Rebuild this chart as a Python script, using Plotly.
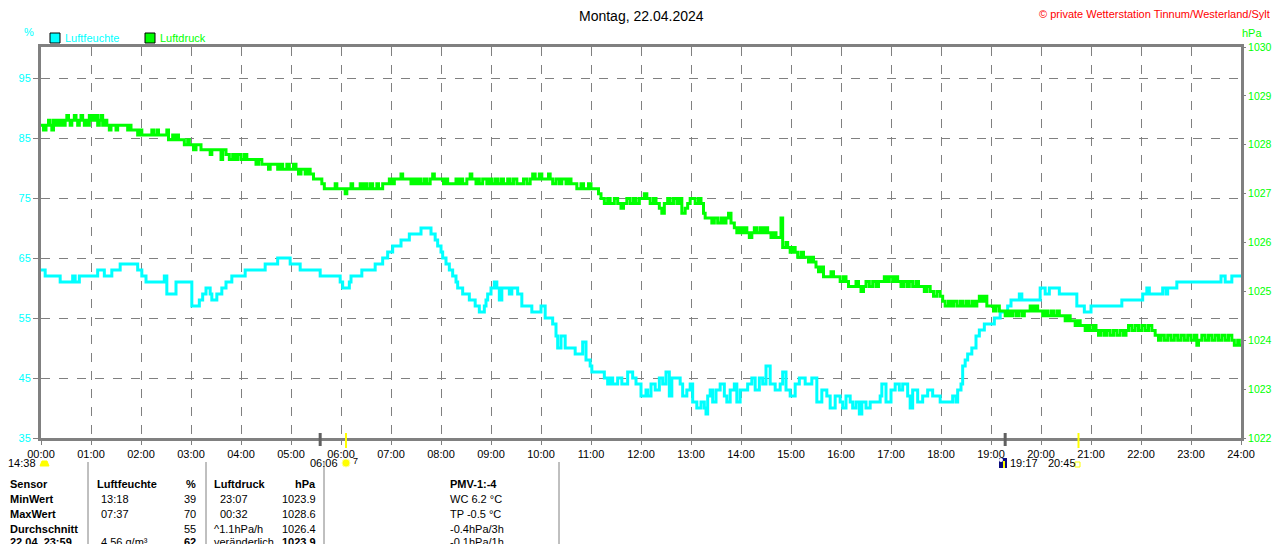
import plotly.graph_objects as go

# Wetterstation Tinnum - Tagesverlauf 22.04.2024

title = "Montag, 22.04.2024"
copyright = "© private Wetterstation Tinnum/Westerland/Sylt"

hour_labels = ["%02d:00" % h for h in range(25)]
hum_ticks = [35, 45, 55, 65, 75, 85, 95]
press_ticks = [1022, 1023, 1024, 1025, 1026, 1027, 1028, 1029, 1030]

# Luftfeuchte (%), Minuten seit 00:00
hum_t = [0, 5, 23, 38, 41, 46, 49, 68, 76, 85, 95, 116, 121, 126, 148, 151, 162, 181,
         190, 194, 198, 203, 205, 211, 217, 222, 229, 245, 269, 284, 299, 311, 335, 359,
         362, 370, 372, 385, 401, 410, 416, 422, 432, 442, 456, 468, 473, 476, 480, 482,
         486, 490, 494, 498, 500, 506, 514, 521, 526, 532, 534, 536, 540, 544, 547, 550,
         553, 562, 565, 572, 577, 589, 600, 605, 614, 618, 620, 624, 629, 641, 650, 654,
         659, 661, 676, 680, 683, 686, 692, 697, 704, 710, 714, 720, 726, 728, 732, 737,
         742, 746, 750, 754, 757, 767, 770, 775, 779, 782, 787, 792, 796, 798, 800, 803,
         806, 810, 815, 820, 823, 827, 832, 835, 839, 848, 853, 857, 862, 866, 870, 875,
         881, 887, 890, 894, 899, 905, 910, 917, 925, 931, 937, 943, 947, 953, 959, 962,
         966, 971, 974, 978, 982, 985, 990, 995, 1007, 1009, 1014, 1020, 1025, 1030, 1034,
         1040, 1043, 1046, 1052, 1058, 1064, 1070, 1079, 1094, 1098, 1100, 1104, 1106,
         1109, 1112, 1117, 1122, 1126, 1132, 1144, 1151, 1160, 1164, 1174, 1177, 1199,
         1205, 1210, 1222, 1243, 1252, 1260, 1297, 1322, 1327, 1330, 1346, 1350, 1352,
         1363, 1416, 1421, 1429, 1440]
hum_v = [63, 62, 61, 62, 61, 62, 62, 63, 62, 63, 64, 63, 62, 61, 62, 59, 61, 57,
         58, 59, 60, 59, 58, 59, 60, 61, 62, 63, 64, 65, 64, 63, 62, 61,
         60, 61, 62, 63, 64, 65, 66, 67, 68, 69, 70, 69, 68, 67, 66, 65,
         64, 63, 62, 61, 60, 59, 58, 57, 56, 57, 58, 59, 60, 61, 60, 58,
         60, 59, 60, 59, 57, 56, 57, 55, 54, 52, 50, 52, 50, 49, 51, 48,
         47, 46, 45, 44, 45, 44, 45, 44, 46, 45, 44, 42, 43, 42, 44, 43,
         45, 44, 46, 42, 45, 44, 42, 43, 44, 41, 40, 41, 40, 39, 42, 43,
         41, 43, 44, 42, 41, 43, 44, 41, 43, 44, 45, 43, 45, 44, 47, 44,
         43, 44, 46, 43, 42, 44, 45, 44, 45, 41, 43, 42, 40, 42, 41, 40,
         42, 41, 40, 41, 39, 41, 40, 41, 42, 44, 41, 43, 44, 43, 44,
         42, 40, 43, 41, 42, 43, 42, 41, 42, 41, 43, 44, 47,
         48, 49, 50, 52, 53, 54, 55, 56, 57, 58, 59, 58, 60,
         59, 60, 59, 57, 56, 57, 58, 59, 60, 59, 60, 59, 60,
         61, 62, 61, 62, 62]

# Luftdruck (hPa), Minuten seit 00:00
press_t = [0, 3, 6, 9, 11, 13, 15, 18, 20, 23, 25, 27, 29, 31, 33, 35, 37, 40, 42, 44,
           46, 48, 50, 52, 54, 56, 58, 60, 62, 64, 66, 68, 70, 72, 74, 77, 79, 82, 84, 88,
           90, 92, 100, 104, 106, 108, 112, 116, 119, 121, 130, 133, 135, 139, 141, 148,
           151, 153, 158, 160, 163, 165, 172, 176, 178, 183, 186, 190, 192, 200, 203, 205,
           213, 216, 218, 222, 226, 230, 233, 236, 240, 244, 247, 255, 258, 261, 265, 270,
           273, 275, 281, 284, 287, 290, 295, 298, 303, 306, 309, 312, 317, 320, 323, 327,
           333, 337, 340, 349, 353, 355, 362, 365, 367, 372, 374, 380, 383, 385, 388, 391,
           395, 398, 403, 405, 410, 414, 418, 421, 424, 428, 432, 434, 441, 444, 447, 450,
           453, 456, 460, 463, 467, 470, 472, 480, 483, 486, 488, 495, 498, 500, 503, 506,
           511, 515, 517, 522, 524, 526, 530, 535, 538, 541, 545, 548, 552, 555, 560, 563,
           567, 571, 576, 579, 583, 587, 590, 593, 598, 601, 606, 609, 611, 614, 618, 622,
           625, 630, 633, 636, 640, 643, 648, 651, 657, 660, 665, 669, 672, 676, 680, 683,
           688, 692, 696, 699, 703, 707, 711, 714, 718, 721, 724, 727, 731, 735, 738, 742,
           745, 748, 752, 755, 759, 763, 766, 769, 773, 776, 779, 782, 785, 789, 792, 795,
           797, 802, 805, 808, 812, 816, 819, 822, 825, 828, 832, 835, 838, 841, 844, 847,
           850, 853, 856, 859, 863, 866, 869, 872, 876, 879, 882, 886, 888, 890, 894, 896,
           899, 902, 905, 908, 912, 915, 918, 921, 924, 927, 930, 933, 936, 939, 945, 948,
           951, 956, 959, 963, 966, 969, 975, 978, 981, 984, 987, 990, 994, 998, 1002, 1005,
           1009, 1012, 1015, 1018, 1022, 1025, 1028, 1032, 1035, 1039, 1042, 1046, 1050,
           1053, 1057, 1060, 1063, 1067, 1071, 1075, 1079, 1082, 1085, 1089, 1092, 1095,
           1099, 1103, 1106, 1110, 1113, 1117, 1120, 1123, 1126, 1129, 1132, 1135, 1140,
           1143, 1146, 1150, 1154, 1157, 1160, 1163, 1166, 1170, 1173, 1177, 1180, 1184,
           1187, 1190, 1193, 1196, 1199, 1202, 1205, 1208, 1212, 1215, 1219, 1222, 1226,
           1229, 1232, 1235, 1238, 1241, 1244, 1247, 1250, 1253, 1256, 1259, 1263, 1266,
           1269, 1272, 1276, 1279, 1283, 1287, 1291, 1295, 1299, 1302, 1305, 1309, 1313,
           1317, 1321, 1325, 1329, 1333, 1337, 1341, 1344, 1348, 1352, 1356, 1360, 1364,
           1368, 1372, 1376, 1380, 1384, 1387, 1389, 1393, 1397, 1401, 1405, 1409, 1413,
           1417, 1421, 1425, 1429, 1432, 1436, 1438, 1440]
press_v = [1028.4, 1028.3, 1028.4, 1028.5, 1028.4, 1028.3, 1028.5, 1028.4, 1028.5, 1028.4,
           1028.5, 1028.4, 1028.5, 1028.6, 1028.5, 1028.4, 1028.5, 1028.6, 1028.5, 1028.4,
           1028.5, 1028.6, 1028.5, 1028.4, 1028.5, 1028.4, 1028.6, 1028.5, 1028.6, 1028.5,
           1028.6, 1028.4, 1028.5, 1028.6, 1028.4, 1028.5, 1028.4, 1028.3, 1028.4, 1028.4,
           1028.3, 1028.4, 1028.4, 1028.3, 1028.4, 1028.3, 1028.3, 1028.2, 1028.3, 1028.2,
           1028.2, 1028.3, 1028.2, 1028.3, 1028.2, 1028.2, 1028.3, 1028.1, 1028.2, 1028.1,
           1028.2, 1028.1, 1028.0, 1028.1, 1028.0, 1027.9, 1028.0, 1028.0, 1027.9, 1027.9,
           1027.8, 1027.9, 1027.9, 1027.7, 1027.9, 1027.8, 1027.7, 1027.8, 1027.7, 1027.8,
           1027.7, 1027.8, 1027.7, 1027.7, 1027.6, 1027.7, 1027.6, 1027.6, 1027.5, 1027.6,
           1027.6, 1027.5, 1027.6, 1027.5, 1027.6, 1027.5, 1027.6, 1027.5, 1027.4, 1027.5,
           1027.4, 1027.5, 1027.4, 1027.3, 1027.3, 1027.2, 1027.1, 1027.1, 1027.2, 1027.1,
           1027.1, 1027.0, 1027.1, 1027.2, 1027.1, 1027.1, 1027.2, 1027.1, 1027.2, 1027.1,
           1027.2, 1027.1, 1027.2, 1027.1, 1027.2, 1027.2, 1027.3, 1027.2, 1027.3, 1027.3,
           1027.4, 1027.3, 1027.3, 1027.2, 1027.3, 1027.2, 1027.3, 1027.2, 1027.3, 1027.2,
           1027.3, 1027.4, 1027.3, 1027.3, 1027.2, 1027.3, 1027.2, 1027.2, 1027.3, 1027.2,
           1027.3, 1027.2, 1027.3, 1027.4, 1027.3, 1027.2, 1027.3, 1027.2, 1027.3, 1027.2,
           1027.3, 1027.2, 1027.3, 1027.2, 1027.3, 1027.2, 1027.3, 1027.2, 1027.3, 1027.2,
           1027.2, 1027.3, 1027.2, 1027.3, 1027.4, 1027.3, 1027.4, 1027.3, 1027.3, 1027.4,
           1027.3, 1027.2, 1027.3, 1027.2, 1027.3, 1027.2, 1027.3, 1027.2, 1027.2, 1027.1,
           1027.2, 1027.1, 1027.2, 1027.1, 1027.1, 1027.0, 1026.9, 1026.8, 1026.9, 1026.8,
           1026.9, 1026.8, 1026.7, 1026.8, 1026.9, 1026.8, 1026.9, 1026.8, 1026.9, 1026.9,
           1027.0, 1026.9, 1026.8, 1026.9, 1026.8, 1026.7, 1026.6, 1026.8, 1026.9, 1026.8,
           1026.9, 1026.8, 1026.9, 1026.6, 1026.7, 1026.8, 1026.9, 1026.9, 1026.8, 1026.9,
           1026.8, 1026.6, 1026.5, 1026.5, 1026.4, 1026.5, 1026.4, 1026.5, 1026.4, 1026.5,
           1026.6, 1026.4, 1026.3, 1026.2, 1026.3, 1026.2, 1026.3, 1026.2, 1026.1, 1026.2,
           1026.3, 1026.2, 1026.3, 1026.2, 1026.3, 1026.2, 1026.1, 1026.2, 1026.1, 1026.1,
           1026.5, 1025.9, 1026.0, 1025.9, 1025.8, 1025.9, 1025.8, 1025.7, 1025.8, 1025.7,
           1025.7, 1025.6, 1025.7, 1025.6, 1025.5, 1025.4, 1025.5, 1025.3, 1025.3, 1025.4,
           1025.3, 1025.3, 1025.2, 1025.3, 1025.2, 1025.1, 1025.1, 1025.2, 1025.1, 1025.0,
           1025.1, 1025.2, 1025.1, 1025.2, 1025.1, 1025.2, 1025.2, 1025.3, 1025.2, 1025.3,
           1025.2, 1025.3, 1025.2, 1025.1, 1025.2, 1025.1, 1025.2, 1025.1, 1025.2, 1025.1,
           1025.1, 1025.0, 1025.1, 1025.0, 1024.9, 1025.0, 1024.9, 1024.8, 1024.7, 1024.8,
           1024.7, 1024.8, 1024.7, 1024.8, 1024.7, 1024.8, 1024.7, 1024.8, 1024.7, 1024.8,
           1024.9, 1024.8, 1024.9, 1024.7, 1024.7, 1024.6, 1024.7, 1024.6, 1024.6, 1024.5,
           1024.6, 1024.5, 1024.6, 1024.5, 1024.6, 1024.5, 1024.6, 1024.6, 1024.7, 1024.6,
           1024.7, 1024.6, 1024.6, 1024.5, 1024.6, 1024.5, 1024.6, 1024.5, 1024.6, 1024.5,
           1024.5, 1024.4, 1024.5, 1024.4, 1024.4, 1024.3, 1024.4, 1024.3, 1024.3, 1024.2,
           1024.3, 1024.2, 1024.3, 1024.2, 1024.1, 1024.2, 1024.1, 1024.2, 1024.1, 1024.2,
           1024.1, 1024.2, 1024.1, 1024.2, 1024.3, 1024.2, 1024.3, 1024.2, 1024.3, 1024.2,
           1024.3, 1024.2, 1024.1, 1024.0, 1024.1, 1024.0, 1024.1, 1024.0, 1024.1, 1024.0,
           1024.1, 1024.0, 1024.1, 1024.0, 1024.1, 1023.9, 1024.0, 1024.1, 1024.0, 1024.1,
           1024.0, 1024.1, 1024.0, 1024.1, 1024.0, 1024.1, 1024.0, 1023.9, 1024.0, 1023.9,
           1023.9]

# Sonne / Mond (Minuten)
dawn_min = [335, 1157]
sun_min = [366, 1245]

# Tabelle unter dem Diagramm
row_labels = ["Sensor", "MinWert", "MaxWert", "Durchschnitt", "22.04. 23:59"]
hum_times = ["Luftfeuchte", "13:18", "07:37", "", "4.56 g/m³"]
hum_vals = ["%", "39", "70", "55", "62"]
press_times = ["Luftdruck", "23:07", "00:32", "^1.1hPa/h", "veränderlich"]
press_vals = ["hPa", "1023.9", "1028.6", "1026.4", "1023.9"]
extra = ["PMV-1:-4", "WC 6.2 °C", "TP -0.5 °C", "-0.4hPa/3h", "-0.1hPa/1h"]

CYAN = "#00FFFF"
GREEN = "#00FF00"
GREY = "#808080"
FONT = "Liberation Sans"

# page has an 8px body margin, so the figure is drawn 8px smaller and shifted
OFF = 8
W, H = 1280 - 2 * OFF, 552 - 2 * OFF
L, R, T, B = 41, 1241, 47, 438   # plot box in screen pixels


def fx(px):
    return (px - L) / (R - L)


def fy(py):
    return (B - py) / (B - T)


fig = go.Figure()
fig.add_trace(go.Scatter(x=[t / 60 for t in hum_t], y=hum_v, mode="lines",
                         line=dict(color=CYAN, width=3, shape="hv"),
                         name="Luftfeuchte", showlegend=False))
fig.add_trace(go.Scatter(x=[t / 60 for t in press_t], y=press_v, mode="lines",
                         line=dict(color=GREEN, width=3, shape="hv"),
                         name="Luftdruck", yaxis="y2", showlegend=False))

fig.update_layout(
    width=W, height=H,
    margin=dict(l=L - OFF, r=W - (R - OFF), t=T - OFF, b=H - (B - OFF), pad=0,
                autoexpand=False),
    paper_bgcolor="white", plot_bgcolor="white",
    font=dict(family=FONT, size=11, color="black"),
    xaxis=dict(range=[0, 24], tickvals=list(range(25)), ticktext=hour_labels,
               showgrid=True, gridcolor=GREY, griddash="dash", gridwidth=1,
               showline=True, linecolor=GREY, linewidth=3, mirror=True,
               ticks="outside", ticklen=4, tickcolor=GREY, zeroline=False,
               automargin=False, tickfont=dict(size=11, color="black")),
    yaxis=dict(range=[35, 35 + (B - T) / 6], tickvals=hum_ticks,
               showgrid=True, gridcolor=GREY, griddash="dash", gridwidth=1,
               showline=True, linecolor=GREY, linewidth=3, mirror=True,
               ticks="outside", ticklen=5, tickcolor=GREY, zeroline=False,
               automargin=False, tickfont=dict(size=11, color=CYAN)),
    yaxis2=dict(range=[1022, 1030], tickvals=press_ticks, overlaying="y", side="right",
                showgrid=False, showline=False, zeroline=False,
                ticks="outside", ticklen=4, tickcolor=GREY,
                automargin=False, tickfont=dict(size=10.5, color=GREEN)),
)

ann = []
shapes = []


def text(px, py, s, color="black", size=11, anchor="left", bold=False):
    if bold:
        s = "<b>%s</b>" % s
    ann.append(dict(x=fx(px), y=fy(py), xref="paper", yref="paper", text=s,
                    showarrow=False, xanchor=anchor, yanchor="middle",
                    font=dict(family=FONT, size=size, color=color)))


text(641, 16, title, size=14, anchor="center")
text(1272, 14, copyright, color="#FF0000", size=11, anchor="right")
text(22, 32, "%", color=CYAN)
text(1240, 33, "hPa", color=GREEN)

# legend boxes
for x0, col, name in [(50, CYAN, "Luftfeuchte"), (145, GREEN, "Luftdruck")]:
    shapes.append(dict(type="rect", xref="paper", yref="paper",
                       x0=fx(x0), x1=fx(x0 + 10), y0=fy(43), y1=fy(33),
                       fillcolor=col, line=dict(color="black", width=1)))
    text(x0 + 13, 38, name, color=col)

# dawn / sun markers on the time axis
for m in dawn_min:
    shapes.append(dict(type="line", xref="x", yref="paper", x0=m / 60, x1=m / 60,
                       y0=fy(446), y1=fy(433), line=dict(color="#606060", width=3)))
for m in sun_min:
    shapes.append(dict(type="line", xref="x", yref="paper", x0=m / 60, x1=m / 60,
                       y0=fy(448), y1=fy(433), line=dict(color="#FFFF00", width=2)))

text(38, 463, "14:38", anchor="right")
shapes.append(dict(type="path", xref="paper", yref="paper",
                   path="M %f %f L %f %f L %f %f L %f %f Z" % (
                       fx(40), fy(466), fx(42), fy(461), fx(47), fy(461), fx(49), fy(466)),
                   fillcolor="#FFFF00", line=dict(color="#FFFF00", width=1)))
text(340, 463, "06:06", anchor="right")
shapes.append(dict(type="circle", xref="paper", yref="paper",
                   x0=fx(342), x1=fx(350), y0=fy(467), y1=fy(459),
                   fillcolor="#FFFF00", line=dict(color="#FFFFA0", width=1)))
text(351, 461, "7", size=9)
shapes.append(dict(type="rect", xref="paper", yref="paper",
                   x0=fx(999), x1=fx(1007), y0=fy(468), y1=fy(458),
                   fillcolor="#0A0A80", line=dict(width=0)))
shapes.append(dict(type="circle", xref="paper", yref="paper",
                   x0=fx(999), x1=fx(1003), y0=fy(462), y1=fy(458),
                   fillcolor="white", line=dict(width=0)))
shapes.append(dict(type="line", xref="paper", yref="paper",
                   x0=fx(1004), x1=fx(1004), y0=fy(468), y1=fy(461),
                   line=dict(color="#FFFF00", width=2)))
text(1008, 463, "19:17")
text(1046, 463, "20:45")
shapes.append(dict(type="rect", xref="paper", yref="paper",
                   x0=fx(1075), x1=fx(1080), y0=fy(467), y1=fy(462),
                   line=dict(color="#FFFF00", width=1)))

# table separators
for x0 in [88, 206, 324, 559]:
    shapes.append(dict(type="line", xref="paper", yref="paper",
                       x0=fx(x0), x1=fx(x0), y0=fy(552), y1=fy(462),
                       line=dict(color=GREY, width=1)))

row_y = [484, 499, 514, 529, 542]
for i, y in enumerate(row_y):
    head = i == 0
    text(8, y, row_labels[i], bold=True)
    text(95 if head else 99, y, hum_times[i], bold=head)
    text(198, y, hum_vals[i], anchor="right", bold=head or i == 4)
    text(212 if (head or i >= 3) else 218, y, press_times[i], bold=head)
    text(318, y, press_vals[i], anchor="right", bold=head or i == 4)
    text(448, y, extra[i], bold=head)

fig.update_layout(annotations=ann, shapes=shapes)

fig.write_html("out.html")
